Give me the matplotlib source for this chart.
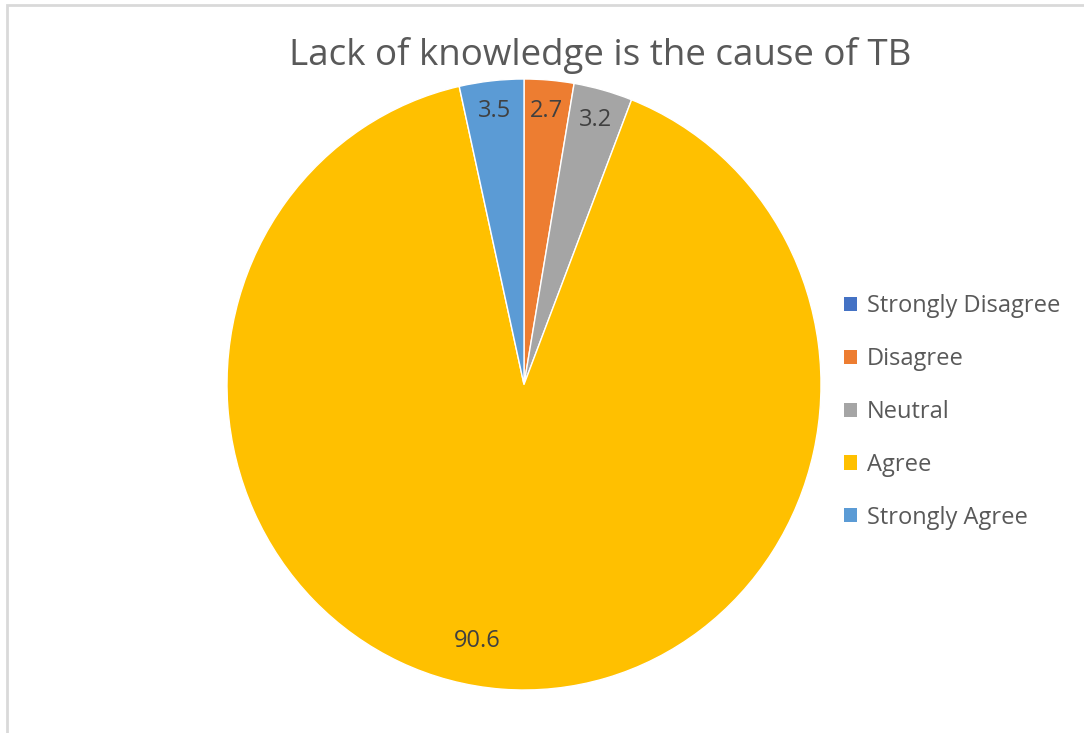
import numpy as np
import matplotlib
matplotlib.use('Agg')
import matplotlib.pyplot as plt
from matplotlib.patches import Rectangle

categories = ['Strongly Disagree', 'Disagree', 'Neutral', 'Agree', 'Strongly Agree']
values = [0, 2.7, 3.2, 90.6, 3.5]
colors = ['#4472C4', '#ED7D31', '#A5A5A5', '#FFC000', '#5B9BD5']
title = 'Lack of knowledge is the cause of TB'

plt.rcParams['font.family'] = ['Open Sans', 'DejaVu Sans']

fig = plt.figure(figsize=(10.84, 7.33), dpi=100)
W, H = 1084, 733

# light grey frame (only left and top visible in the reference)
fig.add_artist(Rectangle((7 / W, -0.1), 1.2, (733 - 5) / H + 0.1, transform=fig.transFigure,
                         fill=False, edgecolor='#D9D9D9', linewidth=2))

ax = fig.add_axes([227 / W, (733 - 690) / H, 594 / W, 611 / H])
labels = ['' if v == 0 else f'{v:g}' for v in values]
wedges, texts = ax.pie(values, colors=colors, startangle=90, counterclock=False,
                       labels=labels, labeldistance=0.9,
                       wedgeprops={'edgecolor': 'white', 'linewidth': 1},
                       textprops={'fontsize': 17, 'color': '#404040', 'ha': 'center', 'va': 'center'})
for t in texts:
    t.set_ha('center')
    t.set_va('center')
# move the big slice label a little, as Excel's best fit does
ang = np.deg2rad(-100.5)
texts[3].set_position((0.855 * np.cos(ang), 0.855 * np.sin(ang)))
ax.set_xlim(-1, 1)
ax.set_ylim(-1, 1)
ax.set_aspect('auto')

fig.text(600 / W, 1 - 55 / H, title, ha='center', va='center', fontsize=26.5, color='#595959')

handles = [Rectangle((0, 0), 1, 1, facecolor=c) for c in colors]
fig.legend(handles, categories, loc='center left', bbox_to_anchor=(823 / W, 1 - 412 / H),
           frameon=False, fontsize=17, labelcolor='#595959', handlelength=0.55, handleheight=0.55,
           handletextpad=0.4, labelspacing=1.22)

fig.savefig('out.png', dpi=100)
